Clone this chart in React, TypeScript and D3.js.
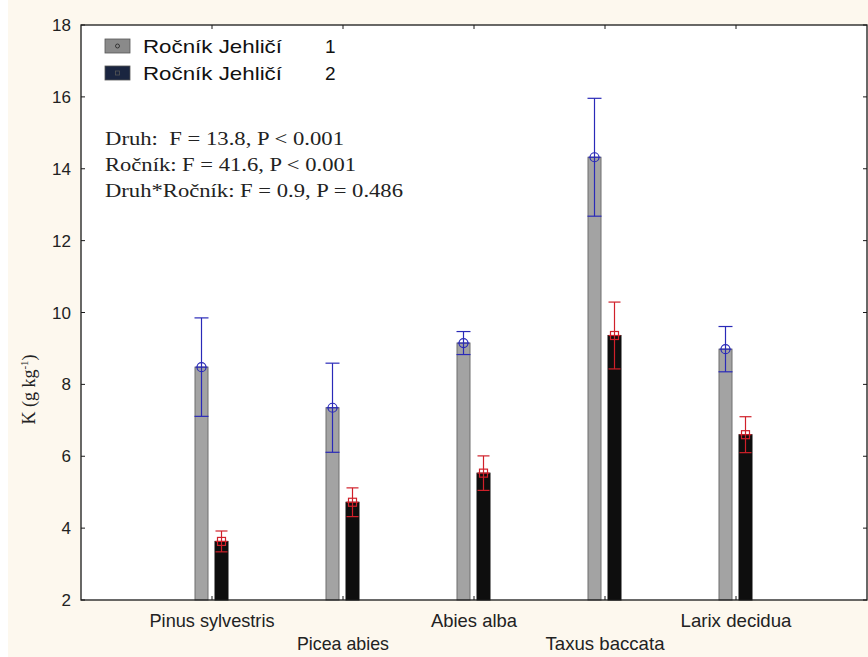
import React from "react";
import * as d3 from "d3";

const species = ["Pinus sylvestris", "Picea abies", "Abies alba", "Taxus baccata", "Larix decidua"];
const year1Mean = [8.48, 7.35, 9.15, 14.32, 8.98];
const year1Err = [1.37, 1.24, 0.32, 1.64, 0.63];
const year2Mean = [3.63, 4.72, 5.53, 9.36, 6.6];
const year2Err = [0.29, 0.4, 0.48, 0.93, 0.5];
const yTicks = [2, 4, 6, 8, 10, 12, 14, 16, 18];
const legendLabels = ["Ročník Jehličí", "Ročník Jehličí"];
const legendKeys = ["1", "2"];
const statsLines = [
  "Druh:  F = 13.8, P < 0.001",
  "Ročník: F = 41.6, P < 0.001",
  "Druh*Ročník: F = 0.9, P = 0.486",
];

const W = 868;
const H = 657;
const left = 81;
const right = 867;
const top = 25;
const bottom = 600;

// widths the category labels and statistics lines are fitted to
const labelWidths = [125, 92, 86, 119, 111];
const statsWidths = [239, 251, 298];

export default function App() {
  const y = d3.scaleLinear().domain([2, 18]).range([bottom, top]);
  const x = d3
    .scalePoint<string>()
    .domain(species)
    .range([left, right])
    .padding(1);
  const barW = 13;
  const blue = "#2a2ab8";
  const red = "#d0202a";
  const sans = "Arial, 'Liberation Sans', sans-serif";
  const narrow = "'Liberation Sans Narrow', 'Arial Narrow', Arial, sans-serif";
  const serif = "'Times New Roman', 'Liberation Serif', serif";

  return (
    <svg
      width={W}
      height={H}
      style={{ position: "absolute", left: 0, top: 0, display: "block" }}
    >
      <rect x={0} y={0} width={W} height={H} fill="#fdf8ee" />
      <rect x={0} y={0} width={8} height={H} fill="#ffffff" />
      <rect x={left} y={top} width={right - left} height={bottom - top} fill="#ffffff" />

      {/* bars */}
      {species.map((s, i) => {
        const cx = x(s)!;
        const g = year1Mean[i];
        const b = year2Mean[i];
        return (
          <g key={s}>
            <rect
              x={cx - 4 - barW}
              y={y(g)}
              width={barW}
              height={bottom - y(g)}
              fill="#a3a3a3"
              stroke="#6e6e6e"
              strokeWidth={1}
            />
            <rect
              x={cx + 3}
              y={y(b)}
              width={barW}
              height={bottom - y(b)}
              fill="#0e0e0e"
              stroke="#0e0e0e"
              strokeWidth={1}
            />
          </g>
        );
      })}

      {/* error bars and mean markers */}
      {species.map((s, i) => {
        const cx = x(s)!;
        const gx = cx - 4 - barW / 2;
        const bx = cx + 3 + barW / 2;
        const g = year1Mean[i];
        const ge = year1Err[i];
        const b = year2Mean[i];
        const be = year2Err[i];
        return (
          <g key={s + "-err"} fill="none" strokeWidth={1.2}>
            <g stroke={blue}>
              <line x1={gx} x2={gx} y1={y(g + ge)} y2={y(g - ge)} />
              <line x1={gx - 7} x2={gx + 7} y1={y(g + ge)} y2={y(g + ge)} />
              <line x1={gx - 7} x2={gx + 7} y1={y(g - ge)} y2={y(g - ge)} />
              <circle cx={gx} cy={y(g)} r={4.5} />
              <line x1={gx - 6} x2={gx + 6} y1={y(g)} y2={y(g)} />
            </g>
            <g stroke={red}>
              <line x1={bx} x2={bx} y1={y(b + be)} y2={y(b - be)} />
              <line x1={bx - 6} x2={bx + 6} y1={y(b + be)} y2={y(b + be)} />
              <line x1={bx - 6} x2={bx + 6} y1={y(b - be)} y2={y(b - be)} />
              <rect x={bx - 4} y={y(b) - 4} width={8} height={8} />
              <line x1={bx - 6} x2={bx + 6} y1={y(b)} y2={y(b)} />
            </g>
          </g>
        );
      })}

      {/* frame */}
      <rect
        x={left}
        y={top}
        width={right - left}
        height={bottom - top}
        fill="none"
        stroke="#1a1a1a"
        strokeWidth={1.3}
      />

      {/* y ticks */}
      {yTicks.map((t) => (
        <g key={t}>
          <line x1={left} x2={left + 4} y1={y(t)} y2={y(t)} stroke="#1a1a1a" />
          <line x1={right} x2={right - 4} y1={y(t)} y2={y(t)} stroke="#1a1a1a" />
          <text
            x={71}
            y={y(t)}
            dy="0.36em"
            textAnchor="end"
            fontFamily={sans}
            fontSize={17}
            fill="#222"
          >
            {t}
          </text>
        </g>
      ))}

      {/* category ticks and labels */}
      {species.map((s, i) => (
        <g key={s + "-lab"}>
          <line x1={x(s)!} x2={x(s)!} y1={bottom} y2={bottom - 4} stroke="#1a1a1a" />
          <line x1={x(s)!} x2={x(s)!} y1={top} y2={top + 4} stroke="#1a1a1a" />
          <text
            x={x(s)!}
            y={i % 2 === 0 ? 627 : 650}
            textAnchor="middle"
            fontFamily={narrow}
            fontSize={19}
            fill="#222"
            textLength={labelWidths[i]}
            lengthAdjust="spacingAndGlyphs"
          >
            {s}
          </text>
        </g>
      ))}

      {/* y axis title */}
      <text
        transform={`translate(35, ${(top + bottom) / 2 + 77}) rotate(-90)`}
        textAnchor="middle"
        fontFamily={serif}
        fontSize={18}
        fill="#222"
      >
        K (g kg
        <tspan dy={-7} fontSize={11}>
          -1
        </tspan>
        <tspan dy={7}>)</tspan>
      </text>

      {/* legend */}
      {legendLabels.map((l, i) => {
        const ly = 39 + i * 27;
        return (
          <g key={i}>
            <rect
              x={105}
              y={ly}
              width={25}
              height={14}
              fill={i === 0 ? "#8a8a8a" : "#1a2540"}
              stroke="#555"
              strokeWidth={0.8}
            />
            {i === 0 ? (
              <circle cx={117.5} cy={ly + 7} r={2} fill="none" stroke="#222" strokeWidth={0.8} />
            ) : (
              <rect x={115.5} y={ly + 5} width={4} height={4} fill="none" stroke="#555" strokeWidth={0.8} />
            )}
            <text
              x={143}
              y={ly + 14}
              fontFamily={sans}
              fontSize={19}
              fill="#111"
              textLength={139}
              lengthAdjust="spacingAndGlyphs"
            >
              {l}
            </text>
            <text x={325} y={ly + 14} fontFamily={sans} fontSize={19} fill="#111">
              {legendKeys[i]}
            </text>
          </g>
        );
      })}

      {/* test statistics */}
      {statsLines.map((t, i) => (
        <text
          key={t}
          x={105}
          y={145 + i * 26}
          fontFamily={serif}
          fontSize={18}
          fill="#222"
          style={{ whiteSpace: "pre" }}
          textLength={statsWidths[i]}
          lengthAdjust="spacingAndGlyphs"
        >
          {t}
        </text>
      ))}
    </svg>
  );
}
